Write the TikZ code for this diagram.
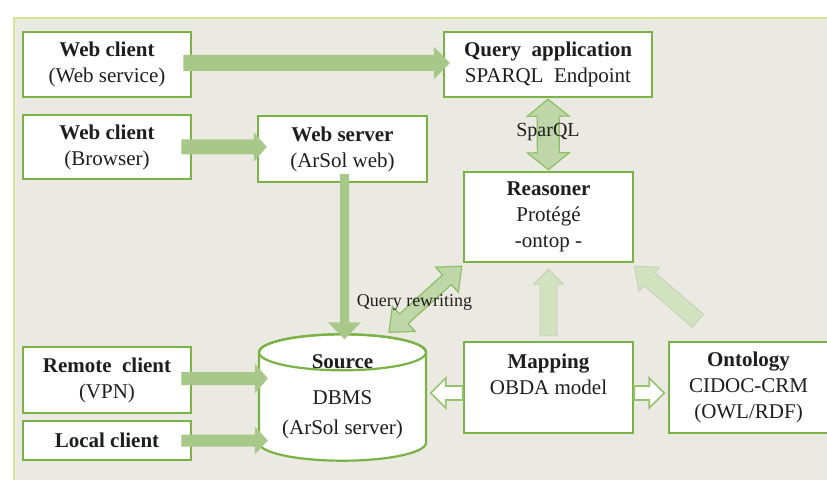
\documentclass[tikz,border=0pt]{standalone}
\usepackage{fontspec}
\setmainfont{Liberation Serif}
\usetikzlibrary{calc}

\definecolor{panelfill}{RGB}{235,234,226}
\definecolor{paneledge}{RGB}{214,229,150}
\definecolor{boxgreen}{RGB}{122,178,70}
\definecolor{flowgreen}{RGB}{168,200,138}
\definecolor{palegreen}{RGB}{208,226,190}
\definecolor{paleedge}{RGB}{196,206,186}
\definecolor{midgreen}{RGB}{190,214,168}
\definecolor{edgegreen}{RGB}{140,190,100}
\definecolor{hollowedge}{RGB}{150,196,110}
\definecolor{inkcol}{RGB}{30,30,30}

% fat single-headed arrow: style, from, to, half shaft, half head, head length
\newcommand\fatarrow[6]{%
  \coordinate (fa-a) at (#2);
  \coordinate (fa-b) at (#3);
  \coordinate (fa-h) at ($(fa-b)!#6!(fa-a)$);
  \path[#1] ($(fa-a)!#4!90:(fa-b)$) -- ($(fa-h)!#4!90:(fa-b)$)
    -- ($(fa-h)!#5!90:(fa-b)$) -- (fa-b) -- ($(fa-h)!#5!-90:(fa-b)$)
    -- ($(fa-h)!#4!-90:(fa-b)$) -- ($(fa-a)!#4!-90:(fa-b)$) -- cycle;
}
% fat double-headed arrow
\newcommand\fatdouble[6]{%
  \coordinate (fd-a) at (#2);
  \coordinate (fd-b) at (#3);
  \coordinate (fd-h) at ($(fd-b)!#6!(fd-a)$);
  \coordinate (fd-g) at ($(fd-a)!#6!(fd-b)$);
  \path[#1] (fd-a) -- ($(fd-g)!#5!90:(fd-b)$) -- ($(fd-g)!#4!90:(fd-b)$)
    -- ($(fd-h)!#4!90:(fd-b)$) -- ($(fd-h)!#5!90:(fd-b)$) -- (fd-b)
    -- ($(fd-h)!#5!-90:(fd-b)$) -- ($(fd-h)!#4!-90:(fd-b)$)
    -- ($(fd-g)!#4!-90:(fd-b)$) -- ($(fd-g)!#5!-90:(fd-b)$) -- cycle;
}

\begin{document}
\begin{tikzpicture}[x=1pt,y=1pt,
  box/.style={draw=boxgreen, line width=2.5pt, fill=white, align=center,
    inner sep=0pt, text=inkcol, font=\fontsize{21}{26}\selectfont},
  txt/.style={align=center, inner sep=0pt, text=inkcol,
    font=\fontsize{21}{30}\selectfont},
  lbl/.style={inner sep=0pt, text=inkcol, font=\fontsize{20}{24}\selectfont},
  flow/.style={fill=flowgreen},
  pale/.style={fill=palegreen, draw=paleedge, line width=0.8pt},
  twoway/.style={fill=midgreen, draw=edgegreen, line width=1.2pt},
  hollow/.style={fill=white, draw=hollowedge, line width=1.6pt, line join=miter}]

\useasboundingbox (0,0) rectangle (827,480);

% background panel
\fill[panelfill] (14,0) rectangle (827,462);
\draw[paneledge, line width=2.2pt] (14,0) -- (14,462) -- (827,462);

% client side
\node[box, minimum width=168pt, minimum height=65pt] (wcs) at (107,415.5)
  {\textbf{Web client}\\(Web service)};
\node[box, minimum width=168pt, minimum height=64pt] (wcb) at (107,333)
  {\textbf{Web client}\\(Browser)};
\node[box, minimum width=169pt, minimum height=66pt] (ws) at (342.5,331)
  {\textbf{Web server}\\(ArSol web)};
\node[box, minimum width=168pt, minimum height=66pt] (rc) at (107,100)
  {\textbf{Remote\ \ client}\\(VPN)};
\node[box, minimum width=168pt, minimum height=39pt] (lc) at (107,39.5)
  {\textbf{Local client}};

% semantic layer
\node[box, minimum width=208pt, minimum height=65pt] (qa) at (548,415.5)
  {\textbf{Query\ \ application}\\SPARQL\ \ Endpoint};
\node[box, minimum width=169pt, minimum height=90pt] (rs) at (548.5,263)
  {\textbf{Reasoner}\\Protégé\\-ontop -};
\node[box, minimum width=169pt, minimum height=91pt] (map) at (548.5,92.5)
  {\textbf{Mapping}\\OBDA model\\~};
\node[box, minimum width=159pt, minimum height=91pt] (ont) at (748.5,92.5)
  {\textbf{Ontology}\\CIDOC-CRM\\(OWL/RDF)};

% data source drawn as a cylinder
\node[minimum width=167pt, minimum height=126pt, inner sep=0pt] (src) at (342.5,82.5) {};
\coordinate (srctop) at ([yshift=-18pt]src.north);
\coordinate (srcbot) at ([yshift=18pt]src.south);
\filldraw[fill=white, draw=boxgreen, line width=2.2pt]
  ([xshift=-83.5pt]srctop) -- ([xshift=-83.5pt]srcbot)
  arc[start angle=180, end angle=360, x radius=83.5, y radius=18]
  -- ([xshift=83.5pt]srctop)
  arc[start angle=0, end angle=180, x radius=83.5, y radius=18] -- cycle;
\draw[boxgreen, line width=2.2pt] (srctop) ellipse[x radius=83.5, y radius=18];
\node[txt] (srcname) at (342.5,118) {\textbf{Source}};
\node[txt] (srcdb) at (342.5,65) {DBMS\\(ArSol server)};

% request flows
\fatarrow{flow}{[xshift=-9pt,yshift=1.5pt]wcs.east}{[xshift=7pt,yshift=1.5pt]qa.west}{8pt}{16.5pt}{16pt}
\fatarrow{flow}{[xshift=-11pt]wcb.east}{[xshift=10pt]ws.west |- wcb.east}{7.5pt}{15pt}{13pt}
\fatarrow{flow}{[xshift=2pt,yshift=9pt]ws.south}{[xshift=2pt,yshift=-5pt]src.north}{4.5pt}{16.5pt}{17pt}
\fatarrow{flow}{[xshift=-11pt,yshift=1.5pt]rc.east}{[xshift=9pt,yshift=1.5pt]src.west |- rc.east}{6.5pt}{15pt}{13pt}
\fatarrow{flow}{[xshift=-11pt]lc.east}{[xshift=9pt]src.west |- lc.east}{6pt}{14pt}{13pt}

% reasoning flows
\fatdouble{twoway}{[yshift=-1pt]qa.south}{[yshift=1pt]rs.north}{11pt}{21pt}{17pt}
\fatdouble{twoway}{[xshift=46.5pt,yshift=2pt]src.north}{[xshift=-1pt,yshift=-3pt]rs.south west}{6.5pt}{17pt}{20pt}
\fatarrow{pale}{[yshift=5pt]map.north}{[yshift=-6pt]rs.south}{8.5pt}{15pt}{15pt}
\fatarrow{pale}{[xshift=-50.5pt,yshift=20pt]ont.north}{[yshift=-3pt]rs.south east}{8.5pt}{16pt}{20pt}

% mapping links (hollow arrows)
\fatarrow{hollow}{[yshift=-5.5pt]map.west}{[xshift=-32pt,yshift=-5.5pt]map.west}{7pt}{15pt}{15pt}
\fatarrow{hollow}{[yshift=-5.5pt]map.east}{[xshift=30pt,yshift=-5.5pt]map.east}{7pt}{15pt}{15pt}

% flow labels
\node[lbl] (sparql) at (548,348) {SparQL};
\node[lbl, font=\fontsize{18}{22}\selectfont] (qrw) at (414.5,178) {Query rewriting};

\end{tikzpicture}
\end{document}
